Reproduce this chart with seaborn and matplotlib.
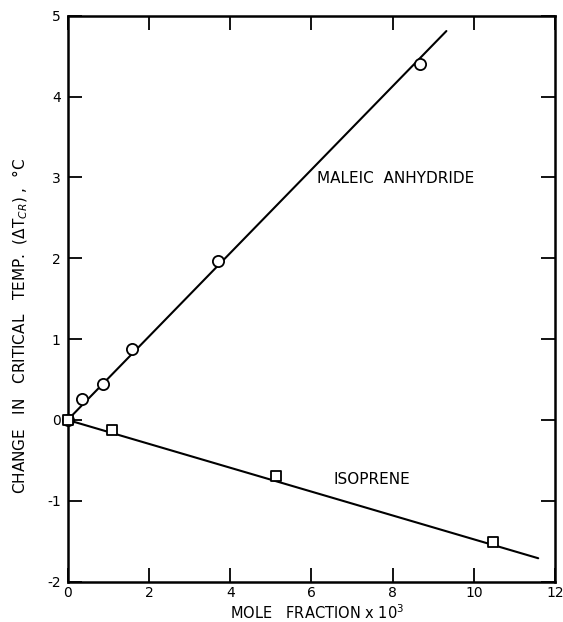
import pandas as pd
import matplotlib
matplotlib.use("Agg")
import matplotlib.pyplot as plt
import seaborn as sns

# Puntos (fraccion molar x 10^3, cambio de temp. critica en C)
maleic_x = [0.0, 0.355, 0.86, 1.58, 3.70, 8.67]
maleic_y = [0.0, 0.255, 0.45, 0.88, 1.96, 4.40]
isoprene_x = [0.0, 1.08, 5.13, 10.47]
isoprene_y = [0.0, -0.13, -0.69, -1.51]

# Extremos de las rectas ajustadas, tal como aparecen en la figura
maleic_line_x = [0.0, 9.32]
maleic_line_y = [0.0, 4.81]
isoprene_line_x = [0.0, 11.58]
isoprene_line_y = [0.0, -1.71]

x_ticks = [0, 2, 4, 6, 8, 10, 12]
y_ticks = [-2, -1, 0, 1, 2, 3, 4, 5]

df_maleic = pd.DataFrame({"x": maleic_x, "y": maleic_y})
df_iso = pd.DataFrame({"x": isoprene_x, "y": isoprene_y})

sns.set_style("ticks")
plt.rcParams["font.family"] = ["DejaVu Sans"]
plt.rcParams["text.color"] = "black"
plt.rcParams["axes.labelcolor"] = "black"

fig = plt.figure(figsize=(5.63, 6.22), dpi=100)
ax = fig.add_axes([0.1202, 0.0648, 0.8661, 0.9100])

sns.lineplot(x=maleic_line_x, y=maleic_line_y, color="black", lw=1.5, ax=ax)
sns.lineplot(x=isoprene_line_x, y=isoprene_line_y, color="black", lw=1.5, ax=ax)
sns.scatterplot(data=df_maleic, x="x", y="y", marker="o", s=65,
                facecolor="white", edgecolor="black", linewidth=1.3, zorder=3,
                clip_on=False, ax=ax)
sns.scatterplot(data=df_iso, x="x", y="y", marker="s", s=48,
                facecolor="white", edgecolor="black", linewidth=1.3, zorder=3,
                clip_on=False, ax=ax)

ax.text(6.14, 2.99, "MALEIC  ANHYDRIDE", fontsize=11, va="center", ha="left")
ax.text(6.54, -0.74, "ISOPRENE", fontsize=11, va="center", ha="left")

ax.set_xlim(0, 12)
ax.set_ylim(-2, 5)
ax.set_xticks(x_ticks)
ax.set_yticks(y_ticks)
ax.set_yticklabels([str(t) for t in y_ticks])
ax.tick_params(direction="in", length=10, width=1.3, top=True, right=True,
               labelsize=10, colors="black")
ax.tick_params(axis="x", pad=3)
ax.tick_params(axis="y", pad=5)
for sp in ax.spines.values():
    sp.set_linewidth(1.8)
    sp.set_color("black")

ax.set_xlabel(r"MOLE   FRACTION x 10$^3$", fontsize=10.5)
ax.set_ylabel(r"CHANGE   IN   CRITICAL   TEMP.  ($\Delta$T$_{CR}$) ,  °C", fontsize=11)
ax.xaxis.set_label_coords(0.511, -0.039)
ax.yaxis.set_label_coords(-0.077, 0.452)

fig.savefig("out.png", dpi=100)
